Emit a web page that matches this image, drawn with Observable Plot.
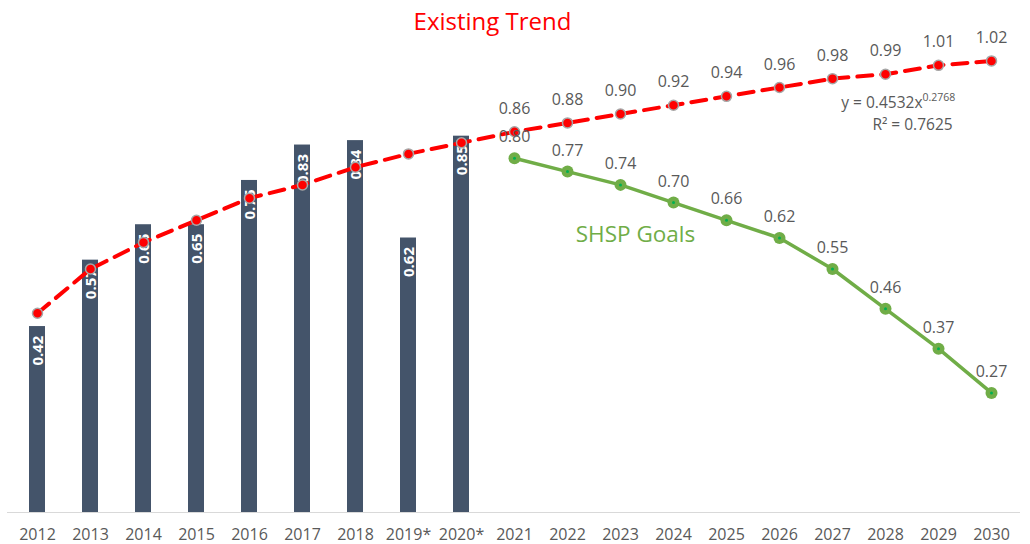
<!DOCTYPE html>
<html>
<head>
<meta charset="utf-8">
<script src="https://cdn.jsdelivr.net/npm/d3@7"></script>
<script src="https://cdn.jsdelivr.net/npm/@observablehq/plot@0.6"></script>
<style>
  html, body { margin: 0; padding: 0; background: #fff; }
  #chart { width: 1030px; height: 544px; }
</style>
</head>
<body>
<div id="chart"></div>
<script>
// ---- data ----
const years = ["2012","2013","2014","2015","2016","2017","2018","2019*","2020*","2021","2022","2023","2024","2025","2026","2027","2028","2029","2030"];
const barYears = ["2012","2013","2014","2015","2016","2017","2018","2019*","2020*"];
const barValues = [0.42, 0.57, 0.65, 0.65, 0.75, 0.83, 0.84, 0.62, 0.85];
const trendValues = [0.45, 0.55, 0.61, 0.66, 0.71, 0.74, 0.78, 0.81, 0.835, 0.86, 0.88, 0.90, 0.92, 0.94, 0.96, 0.98, 0.99, 1.01, 1.02];
const goalYears = ["2021","2022","2023","2024","2025","2026","2027","2028","2029","2030"];
const goalValues = [0.80, 0.77, 0.74, 0.70, 0.66, 0.62, 0.55, 0.46, 0.37, 0.27];

const bars = barYears.map((y, i) => ({year: y, value: barValues[i]}));
const trend = years.map((y, i) => ({year: y, value: trendValues[i]}));
const trendLabeled = trend.filter(d => goalYears.includes(d.year));
const goals = goalYears.map((y, i) => ({year: y, value: goalValues[i]}));

const FONT = "Open Sans";
const GRAY = "#595959";
const RED = "#FF0000";
const GREEN = "#70AD47";
const BAR = "#44546A";

const ML = 7, MT = 25;
const anno = (dxAbs, dyAbs, o) => ({frameAnchor: "top-left", dx: dxAbs - ML, dy: dyAbs - MT, textAnchor: "middle", lineAnchor: "middle", ...o});

const chart = Plot.plot({
  width: 1030,
  height: 544,
  marginLeft: ML,
  marginRight: 10,
  marginTop: MT,
  marginBottom: 32,
  style: {fontFamily: FONT, fontSize: "16px", color: GRAY, background: "#fff"},
  x: {type: "band", domain: years, paddingInner: 0.7, paddingOuter: 0.35, tickSize: 0, tickPadding: 16, label: null},
  y: {domain: [0, 1.1], axis: null},
  marks: [
    Plot.ruleY([0], {stroke: "#d9d9d9", strokeWidth: 1}),
    Plot.barY(bars, {x: "year", y: "value", fill: BAR}),
    Plot.text(bars, {x: "year", y: "value", text: d => d.value.toFixed(2), rotate: -90, textAnchor: "end", dy: 9, dx: 1, fill: "#fff", fontWeight: "bold", fontSize: 15}),
    Plot.line(trend, {x: "year", y: "value", stroke: RED, strokeWidth: 4, strokeDasharray: "15,9"}),
    Plot.dot(trend, {x: "year", y: "value", r: 5, fill: RED, stroke: "#a6a6a6", strokeWidth: 1.5}),
    Plot.text(trendLabeled, {x: "year", y: "value", text: d => d.value.toFixed(2), dy: -23, fill: GRAY, fontSize: 16}),
    Plot.line(goals, {x: "year", y: "value", stroke: GREEN, strokeWidth: 3.5}),
    Plot.dot(goals, {x: "year", y: "value", r: 6, fill: GREEN}),
    Plot.dot(goals, {x: "year", y: "value", r: 1.5, fill: "#00B050"}),
    Plot.text(goals, {x: "year", y: "value", text: d => d.value.toFixed(2), dy: -21, fill: GRAY, fontSize: 16}),
    // annotations
    Plot.text(["Existing Trend"], anno(492, 22, {fill: RED, fontSize: 24})),
    Plot.text(["SHSP Goals"], anno(635, 234, {fill: GREEN, fontSize: 22.5})),
    Plot.text(["y = 0.4532x"], anno(922, 103, {textAnchor: "end", fill: GRAY, fontSize: 15.5})),
    Plot.text(["0.2768"], anno(922, 97, {textAnchor: "start", fill: GRAY, fontSize: 10.5})),
    Plot.text(["R² = 0.7625"], anno(912, 125, {fill: GRAY, fontSize: 15.5}))
  ]
});
document.getElementById("chart").appendChild(chart);
</script>
</body>
</html>
